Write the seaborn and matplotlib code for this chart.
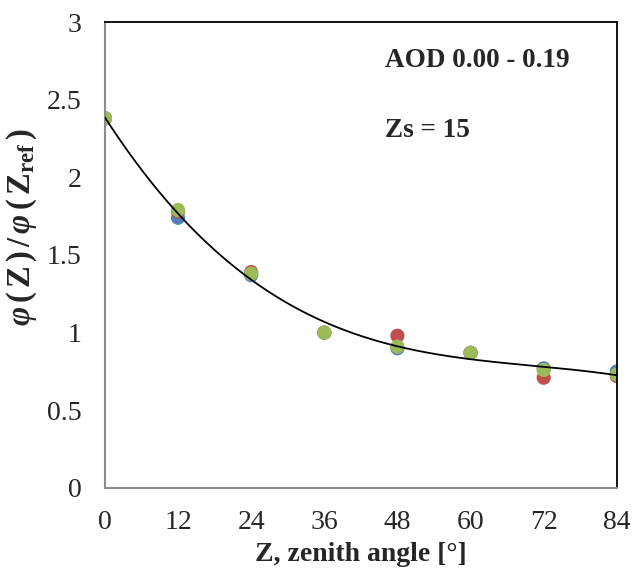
import numpy as np
import pandas as pd
import matplotlib
matplotlib.use("Agg")
import matplotlib.pyplot as plt
import seaborn as sns

# Data
zenith = [0, 12, 24, 36, 48, 60, 72, 84]
blue_vals = [2.38, 1.74, 1.37, 1.00, 0.90, 0.87, 0.77, 0.75]
red_vals = [2.38, 1.78, 1.39, 1.00, 0.98, 0.87, 0.71, 0.72]
green_vals = [2.38, 1.79, 1.38, 1.00, 0.91, 0.87, 0.76, 0.73]
x_ticks = [0, 12, 24, 36, 48, 60, 72, 84]
y_ticks = [0, 0.5, 1, 1.5, 2, 2.5, 3]
y_tick_labels = ["0", "0.5", "1", "1.5", "2", "2.5", "3"]
annot1 = "AOD 0.00 - 0.19"
annot2 = "Zs = 15"

sns.set_style("white")
plt.rcParams['font.family'] = ['Liberation Serif', 'DejaVu Serif']
plt.rcParams['mathtext.fontset'] = 'custom'
plt.rcParams['mathtext.rm'] = 'Liberation Serif:bold'
plt.rcParams['mathtext.it'] = 'Liberation Serif:italic:bold'
plt.rcParams['mathtext.bf'] = 'Liberation Serif:bold'

df = pd.DataFrame({
    "Z": zenith * 3,
    "val": blue_vals + red_vals + green_vals,
    "series": ["blue"] * 8 + ["red"] * 8 + ["green"] * 8,
})
palette = {"blue": "#4F81BD", "red": "#C0504D", "green": "#9BBB59"}

fig = plt.figure(figsize=(6.32, 5.69), dpi=100)
ax = fig.add_axes([0.166, 0.1424, 0.810, 0.8189])

# trend line: polynomial fit of all points
coef = np.polyfit(df["Z"], df["val"], 3)
xs = np.linspace(0, 84, 200)
trend = pd.DataFrame({"Z": xs, "val": np.polyval(coef, xs)})
sns.lineplot(data=trend, x="Z", y="val", ax=ax, color="black", lw=1.3, zorder=3)

sns.scatterplot(data=df, x="Z", y="val", hue="series", palette=palette,
                s=105, edgecolor="none", linewidth=0, legend=False, ax=ax, zorder=2)

ax.set_xlim(0, 84)
ax.set_ylim(0, 3)
ax.set_xticks(x_ticks)
ax.set_xticklabels([str(v) for v in x_ticks])
ax.set_yticks(y_ticks)
ax.set_yticklabels(y_tick_labels)
ax.tick_params(axis='both', which='major', direction='out', length=6, width=1.3,
               color='#8c8c8c', labelsize=20)
ax.tick_params(axis='x', pad=10)
ax.tick_params(axis='y', pad=11)

for side in ['left', 'bottom']:
    ax.spines[side].set_color('#8c8c8c')
    ax.spines[side].set_linewidth(1.5)
for side in ['top', 'right']:
    ax.spines[side].set_color('black')
    ax.spines[side].set_linewidth(1.3)
    ax.spines[side].set_visible(True)

ax.set_xlabel("Z, zenith angle [°]", fontsize=20, fontweight='bold', labelpad=5)
ax.set_ylabel(r"$\varphi\,(\,\mathrm{Z}\,)\,/\,\varphi\,(\,\mathrm{Z}_{\mathrm{ref}}\,)$",
              fontsize=23.5, fontweight='bold')
ax.yaxis.set_label_coords(-0.128, 0.56)

ax.text(0.548, 0.918, annot1, transform=ax.transAxes, fontsize=19.5,
        fontweight='bold', va='center', ha='left')
ax.text(0.548, 0.768, annot2, transform=ax.transAxes, fontsize=19.5,
        fontweight='bold', va='center', ha='left')

fig.savefig("out.png", dpi=100)
